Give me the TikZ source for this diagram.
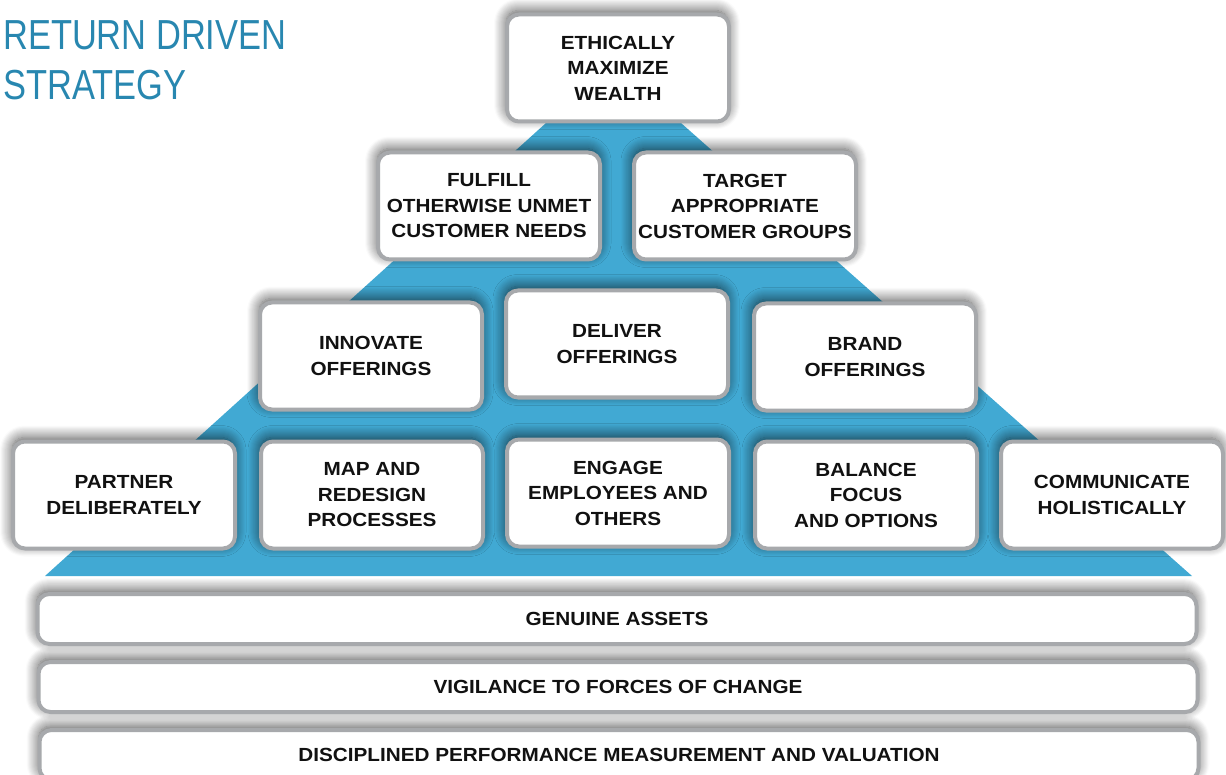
\documentclass[tikz,border=0pt]{standalone}
\usepackage{fontspec}
\setmainfont{Liberation Sans}
\newfontfamily\boxfont[FakeStretch=1.09]{Liberation Sans}
\newfontfamily\titlefont[FakeStretch=0.82]{Liberation Sans}
\usetikzlibrary{shadows.blur}
\definecolor{rdsblue}{HTML}{41A9D3}
\definecolor{rdsgray}{HTML}{A7A9AC}
\definecolor{rdstitle}{HTML}{2887B0}
\definecolor{rdstext}{HTML}{111111}
\tikzset{
  rdsshadow/.style={blur shadow={shadow xshift=-1pt, shadow yshift=4pt, shadow blur radius=12pt, shadow opacity=70, shadow blur steps=12}},
  rdsbox/.style={draw=rdsgray, line width=4pt, fill=white, rounded corners=12pt,
    minimum width=222pt, minimum height=107pt, align=center, inner sep=0pt,
    font=\boxfont\bfseries\fontsize{19}{25.5}\selectfont, text=rdstext, rdsshadow},
  rdsbar/.style={draw=rdsgray, line width=4pt, fill=white, rounded corners=12pt,
    minimum width=1159pt, minimum height=50pt, align=center, inner sep=0pt,
    font=\boxfont\bfseries\fontsize{19}{25.5}\selectfont, text=rdstext, rdsshadow},
  rdstitlestyle/.style={anchor=base west, inner sep=0pt, text=rdstitle,
    font=\titlefont\fontsize{42}{50}\selectfont}
}
\begin{document}
\begin{tikzpicture}[x=1pt,y=-1pt]
\useasboundingbox (0,0) rectangle (1226,775);
% title
\node[rdstitlestyle] (title1) at (3,50) {RETURN DRIVEN};
\node[rdstitlestyle] (title2) at (3,100) {STRATEGY};
% pyramid background
\fill[rdsblue] (546,123) -- (681,123) -- (1192,576) -- (45,576) -- cycle;
% top
\node[rdsbox] (wealth) at (618,68) {ETHICALLY\\MAXIMIZE\\WEALTH};
% row 2
\node[rdsbox] (fulfill) at (489,206) {FULFILL\\OTHERWISE UNMET\\CUSTOMER NEEDS};
\node[rdsbox] (target) at (745,206) {TARGET\\APPROPRIATE\\CUSTOMER GROUPS};
% row 3
\node[rdsbox] (innovate) at (371,356) {INNOVATE\\OFFERINGS};
\node[rdsbox] (deliver) at (617,344) {DELIVER\\OFFERINGS};
\node[rdsbox] (brand) at (865,357) {BRAND\\OFFERINGS};
% row 4
\node[rdsbox] (partner) at (124,495) {PARTNER\\DELIBERATELY};
\node[rdsbox] (map) at (372,495) {MAP AND\\REDESIGN\\PROCESSES};
\node[rdsbox] (engage) at (618,493) {ENGAGE\\EMPLOYEES AND\\OTHERS};
\node[rdsbox] (balance) at (866,495) {BALANCE\\FOCUS\\AND OPTIONS};
\node[rdsbox] (communicate) at (1112,495) {COMMUNICATE\\HOLISTICALLY};
% bars
\node[rdsbar] (assets) at (617,619) {GENUINE ASSETS};
\node[rdsbar] (vigilance) at (618,687) {VIGILANCE TO FORCES OF CHANGE};
\node[rdsbar] (measure) at (619,755) {DISCIPLINED PERFORMANCE MEASUREMENT AND VALUATION};
\end{tikzpicture}
\end{document}
